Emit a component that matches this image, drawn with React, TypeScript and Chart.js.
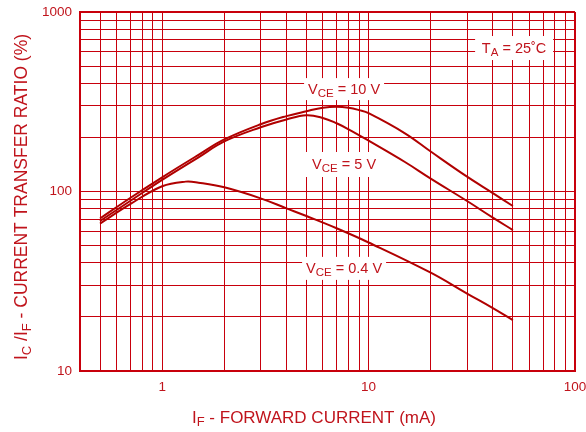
import { useEffect, useRef } from 'react';
import { Chart, registerables } from 'chart.js';

Chart.register(...registerables);

const FONT = '"Liberation Sans", Arial, Helvetica, sans-serif';
const GRID = '#c8000c';
const CURVE = '#b00000';
const TEXT = '#c0141c';

// Forward current I_F (mA) and current transfer ratio (%)
const ifVce10 = [0.5, 0.7, 1, 1.5, 2, 3, 4, 5, 6, 7, 8, 9, 10, 15, 20, 30, 40, 50];
const ctrVce10 = [70.7, 92, 120, 160, 195, 237, 263, 280, 293, 297, 293, 284, 273, 211, 167, 121, 98, 83];

const ifVce5 = [0.5, 0.7, 1, 1.5, 2, 3, 4, 5, 6, 7, 8, 10, 15, 20, 30, 40, 50];
const ctrVce5 = [68.5, 88.5, 116, 155, 190, 228, 252, 266, 257, 240, 222, 192, 146, 118, 88.5, 71.5, 61];

const ifVce04 = [0.5, 0.7, 1, 1.3, 1.5, 2, 3, 4, 5, 7, 10, 20, 30, 40, 50];
const ctrVce04 = [66.3, 85, 107, 113.5, 112, 105.5, 91.6, 80.6, 73, 62.4, 52, 35.3, 27, 22.4, 19.2];

// Axis grid ticks
const xGridTicks = [0.4, 0.5, 0.6, 0.7, 0.8, 0.9, 1, 2, 3, 4, 5, 6, 7, 8, 9, 10, 20, 30, 40, 50, 60, 70, 80, 90, 100];
const xLabelTicks = [1, 10, 100];
const yGridTicks = [10, 20, 30, 40, 50, 60, 70, 80, 90, 100, 200, 300, 400, 500, 600, 700, 800, 900, 1000];
const yLabelTicks = [10, 100, 1000];

// Curve labels (data-space anchor points)
const labelTexts = [
  [['V', false], ['CE', true], [' = 10 V', false]],
  [['V', false], ['CE', true], [' = 5 V', false]],
  [['V', false], ['CE', true], [' = 0.4 V', false]],
  [['T', false], ['A', true], [' = 25\u02DAC', false]],
];
const labelX = [7.61, 7.61, 7.61, 50.7];
const labelY = [372, 141.4, 37.3, 630];
const labelBoxW = [80, 80, 84, 78];
const labelBoxH = [22, 25, 23, 24];

const xTitle = [['I', false], ['F', true], [' - FORWARD CURRENT (mA)', false]];
const yTitle = [['I', false], ['C', true], [' /I', false], ['F', true], [' - CURRENT TRANSFER RATIO (%)', false]];

function drawRich(ctx: CanvasRenderingContext2D, parts: any[], cx: number, baseline: number, size: number, subSize: number, subDrop: number) {
  let w = 0;
  for (const [t, sub] of parts) {
    ctx.font = `${sub ? subSize : size}px ${FONT}`;
    w += ctx.measureText(t).width;
  }
  let x = cx - w / 2;
  ctx.textAlign = 'left';
  ctx.textBaseline = 'alphabetic';
  for (const [t, sub] of parts) {
    ctx.font = `${sub ? subSize : size}px ${FONT}`;
    ctx.fillText(t, x, baseline + (sub ? subDrop : 0));
    x += ctx.measureText(t).width;
  }
}

const annotPlugin = {
  id: 'annot',
  beforeDatasetsDraw(chart: any) {
    const ctx = chart.ctx as CanvasRenderingContext2D;
    const xs = chart.scales.x;
    const ys = chart.scales.y;
    ctx.save();
    for (let i = 0; i < labelTexts.length; i++) {
      const cx = xs.getPixelForValue(labelX[i]);
      const cy = ys.getPixelForValue(labelY[i]);
      const w = labelBoxW[i];
      const h = labelBoxH[i];
      ctx.fillStyle = '#ffffff';
      ctx.fillRect(cx - w / 2, cy - h / 2, w, h);
      ctx.fillStyle = TEXT;
      drawRich(ctx, labelTexts[i], cx, cy + 5, 14.5, 11.5, 3);
    }
    ctx.restore();
  },
  afterDraw(chart: any) {
    const ctx = chart.ctx as CanvasRenderingContext2D;
    ctx.save();
    ctx.fillStyle = TEXT;
    drawRich(ctx, xTitle, 314, 422.5, 17, 13, 3.5);
    ctx.translate(27, 197);
    ctx.rotate(-Math.PI / 2);
    drawRich(ctx, yTitle, 0, 0, 17.5, 13, 3.5);
    ctx.restore();
  },
};

export default function App() {
  const ref = useRef<HTMLCanvasElement>(null);

  useEffect(() => {
    if (!ref.current) return;
    const mk = (xs: number[], ys: number[]) => xs.map((x, i) => ({ x, y: ys[i] }));
    const ds = (data: any[]) => ({
      data,
      borderColor: CURVE,
      borderWidth: 2,
      pointRadius: 0,
      fill: false,
      tension: 0.4,
    });
    const chart = new Chart(ref.current, {
      type: 'line',
      data: {
        datasets: [ds(mk(ifVce10, ctrVce10)), ds(mk(ifVce5, ctrVce5)), ds(mk(ifVce04, ctrVce04))],
      },
      options: {
        responsive: false,
        animation: false,
        devicePixelRatio: 1,
        layout: { padding: { left: 0, top: 12, right: 11, bottom: 0 } },
        plugins: { legend: { display: false }, tooltip: { enabled: false } },
        scales: {
          x: {
            type: 'logarithmic',
            min: 0.4,
            max: 100,
            afterBuildTicks: (s: any) => {
              s.ticks = xGridTicks.map((v) => ({ value: v }));
            },
            afterFit: (s: any) => {
              s.height = 61;
              s.paddingLeft = 0;
              s.paddingRight = 0;
            },
            ticks: {
              autoSkip: false,
              maxRotation: 0,
              padding: 8,
              color: TEXT,
              font: { family: FONT, size: 13.5 },
              callback: (v: any) => (xLabelTicks.includes(Number(v)) ? String(v) : ''),
            },
            grid: {
              color: GRID,
              lineWidth: (c: any) => (c.tick && c.tick.value === 100 ? 2 : 1),
              drawTicks: false,
            },
            border: { color: GRID, width: 2 },
          },
          y: {
            type: 'logarithmic',
            min: 10,
            max: 1000,
            afterBuildTicks: (s: any) => {
              s.ticks = yGridTicks.map((v) => ({ value: v }));
            },
            afterFit: (s: any) => {
              s.width = 80;
              s.paddingTop = 0;
              s.paddingBottom = 0;
            },
            ticks: {
              autoSkip: false,
              padding: 8,
              color: TEXT,
              font: { family: FONT, size: 13.5 },
              callback: (v: any) => (yLabelTicks.includes(Number(v)) ? String(v) : ''),
            },
            grid: {
              color: GRID,
              lineWidth: (c: any) => (c.tick && c.tick.value === 1000 ? 2 : 1),
              drawTicks: false,
            },
            border: { color: GRID, width: 2 },
          },
        },
      },
      plugins: [annotPlugin],
    });
    return () => chart.destroy();
  }, []);

  return (
    <div style={{ position: 'absolute', left: 0, top: 0, width: 586, height: 432, background: '#fff' }}>
      <canvas ref={ref} width={586} height={432} style={{ width: 586, height: 432 }} />
    </div>
  );
}
